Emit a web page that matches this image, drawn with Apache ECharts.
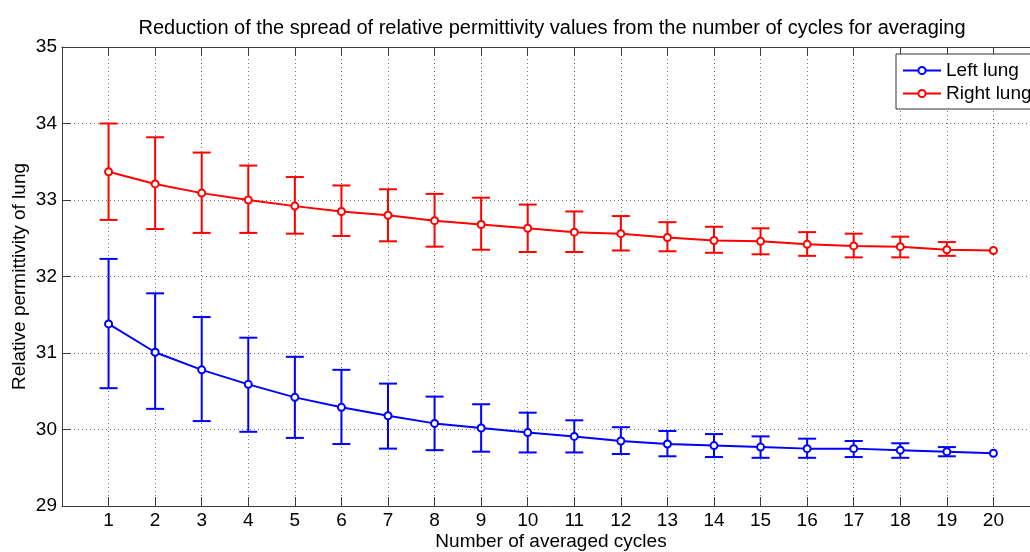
<!DOCTYPE html>
<html>
<head>
<meta charset="UTF-8" />
<title>Relative permittivity spread</title>
<script src="https://cdn.jsdelivr.net/npm/echarts@6/dist/echarts.min.js"></script>
<style>
  html, body { margin: 0; padding: 0; background: #fff; }
  #container { width: 1030px; height: 552px; }
</style>
</head>
<body>
<div id="container"></div>
<script type="text/javascript">
    // number of averaged cycles
    var cycles = [1, 2, 3, 4, 5, 6, 7, 8, 9, 10, 11, 12, 13, 14, 15, 16, 17, 18, 19, 20];

    // left lung: mean and error bar ends
    var leftMean  = [31.38, 31.01, 30.78, 30.59, 30.42, 30.29, 30.18, 30.08, 30.02, 29.96, 29.91, 29.85, 29.81, 29.79, 29.77, 29.75, 29.75, 29.73, 29.71, 29.69];
    var leftUpper = [32.23, 31.78, 31.47, 31.20, 30.95, 30.78, 30.60, 30.43, 30.33, 30.22, 30.12, 30.03, 29.98, 29.94, 29.91, 29.88, 29.85, 29.82, 29.77, 29.69];
    var leftLower = [30.54, 30.27, 30.11, 29.97, 29.89, 29.81, 29.75, 29.73, 29.71, 29.70, 29.70, 29.68, 29.65, 29.64, 29.63, 29.63, 29.64, 29.63, 29.65, 29.69];

    // right lung
    var rightMean  = [33.37, 33.21, 33.09, 33.00, 32.92, 32.85, 32.80, 32.73, 32.68, 32.63, 32.58, 32.56, 32.51, 32.47, 32.46, 32.42, 32.40, 32.39, 32.35, 32.34];
    var rightUpper = [34.00, 33.82, 33.62, 33.45, 33.30, 33.19, 33.14, 33.08, 33.03, 32.94, 32.85, 32.79, 32.71, 32.65, 32.63, 32.58, 32.56, 32.52, 32.45, 32.34];
    var rightLower = [32.74, 32.62, 32.57, 32.57, 32.56, 32.53, 32.46, 32.39, 32.35, 32.32, 32.32, 32.34, 32.33, 32.31, 32.29, 32.27, 32.25, 32.25, 32.27, 32.34];

    var yTicks = [29, 30, 31, 32, 33, 34, 35];

    var FONT = 'Liberation Sans, Arial, sans-serif';

    function pairs(xs, ys) {
        var out = [];
        for (var i = 0; i < xs.length; i++) out.push([xs[i], ys[i]]);
        return out;
    }

    function triples(xs, lo, hi) {
        var out = [];
        for (var i = 0; i < xs.length; i++) out.push([xs[i], lo[i], hi[i]]);
        return out;
    }

    // error bar drawn through the axes
    function errorBar(color) {
        return function (params, api) {
            var x = api.value(0);
            var lo = api.coord([x, api.value(1)]);
            var hi = api.coord([x, api.value(2)]);
            if (Math.abs(lo[1] - hi[1]) < 0.5) return null;
            var cap = 9;
            var st = { stroke: color, lineWidth: 2 };
            return {
                type: 'group',
                children: [
                    { type: 'line', shape: { x1: lo[0], y1: lo[1], x2: hi[0], y2: hi[1] }, style: st },
                    { type: 'line', shape: { x1: lo[0] - cap, y1: lo[1], x2: lo[0] + cap, y2: lo[1] }, style: st },
                    { type: 'line', shape: { x1: hi[0] - cap, y1: hi[1], x2: hi[0] + cap, y2: hi[1] }, style: st }
                ]
            };
        };
    }

    var dom = document.getElementById('container');
    var myChart = echarts.init(dom, null, { renderer: 'canvas' });

    var axisCol = '#3c3c3c';
    var gridLine = { show: true, lineStyle: { color: '#6e6e6e', type: [1, 3], width: 1 } };

    var option = {
        animation: false,
        backgroundColor: '#fff',
        title: {
            text: 'Reduction of the spread of relative permittivity values from the number of cycles for averaging',
            left: 547,
            textAlign: 'center',
            top: 13,
            textStyle: { fontFamily: FONT, fontSize: 20, fontWeight: 'normal', color: '#000' }
        },
        legend: {
            data: ['Left lung', 'Right lung'],
            orient: 'vertical',
            left: 896,
            top: 54,
            padding: [7, 12, 6, 6],
            itemGap: 4,
            itemWidth: 38,
            itemHeight: 9,
            borderColor: '#333',
            borderWidth: 1,
            backgroundColor: '#fff',
            textStyle: { fontFamily: FONT, fontSize: 19, color: '#000', padding: [0, 0, 0, 0] }
        },
        // the plot box runs past the right edge of the picture (x up to 21)
        grid: { left: 62, top: 47, width: 978, height: 459, containLabel: false, outerBoundsMode: 'none' },
        xAxis: [{
            type: 'value',
            min: 0,
            max: 21,
            interval: 1,
            name: 'Number of averaged cycles',
            nameLocation: 'middle',
            nameGap: 26,
            nameMoveOverlap: false,
            nameTextStyle: { fontFamily: FONT, fontSize: 19, color: '#000' },
            axisLine: { lineStyle: { color: axisCol, width: 1 } },
            axisTick: { inside: true, length: 9, lineStyle: { color: axisCol } },
            axisLabel: {
                margin: 5,
                fontFamily: FONT, fontSize: 19, color: '#000',
                formatter: function (v) { return (v >= 1 && v <= 20) ? String(v) : ''; }
            },
            splitLine: gridLine
        }, {
            type: 'value',
            position: 'top',
            min: 0,
            max: 21,
            interval: 1,
            axisLine: { show: true, lineStyle: { color: axisCol, width: 1 } },
            axisTick: { show: true, inside: true, length: 9, lineStyle: { color: axisCol } },
            axisLabel: { show: false },
            splitLine: { show: false }
        }],
        yAxis: {
            type: 'value',
            min: yTicks[0],
            max: yTicks[yTicks.length - 1],
            interval: 1,
            name: 'Relative permittivity of lung',
            nameLocation: 'middle',
            nameGap: 33,
            nameMoveOverlap: false,
            nameTextStyle: { fontFamily: FONT, fontSize: 19, color: '#000' },
            axisLine: { show: true, lineStyle: { color: axisCol, width: 1 } },
            axisTick: { show: true, inside: true, length: 9, lineStyle: { color: axisCol } },
            axisLabel: { margin: 5, fontFamily: FONT, fontSize: 19, color: '#000' },
            splitLine: gridLine
        },
        series: [
            {
                name: 'leftErr',
                type: 'custom',
                renderItem: errorBar('#0000ff'),
                data: triples(cycles, leftLower, leftUpper),
                z: 2
            },
            {
                name: 'rightErr',
                type: 'custom',
                renderItem: errorBar('#ff0000'),
                data: triples(cycles, rightLower, rightUpper),
                z: 2
            },
            {
                name: 'Left lung',
                type: 'line',
                data: pairs(cycles, leftMean),
                symbol: 'emptyCircle',
                symbolSize: 7,
                lineStyle: { color: '#0000ff', width: 2 },
                itemStyle: { color: '#0000ff', borderColor: '#0000ff', borderWidth: 1.5 },
                z: 3
            },
            {
                name: 'Right lung',
                type: 'line',
                data: pairs(cycles, rightMean),
                symbol: 'emptyCircle',
                symbolSize: 7,
                lineStyle: { color: '#ff0000', width: 2 },
                itemStyle: { color: '#ff0000', borderColor: '#ff0000', borderWidth: 1.5 },
                z: 3
            }
        ]
    };

    if (option && typeof option === 'object') {
        myChart.setOption(option, true);
    }
</script>
</body>
</html>
